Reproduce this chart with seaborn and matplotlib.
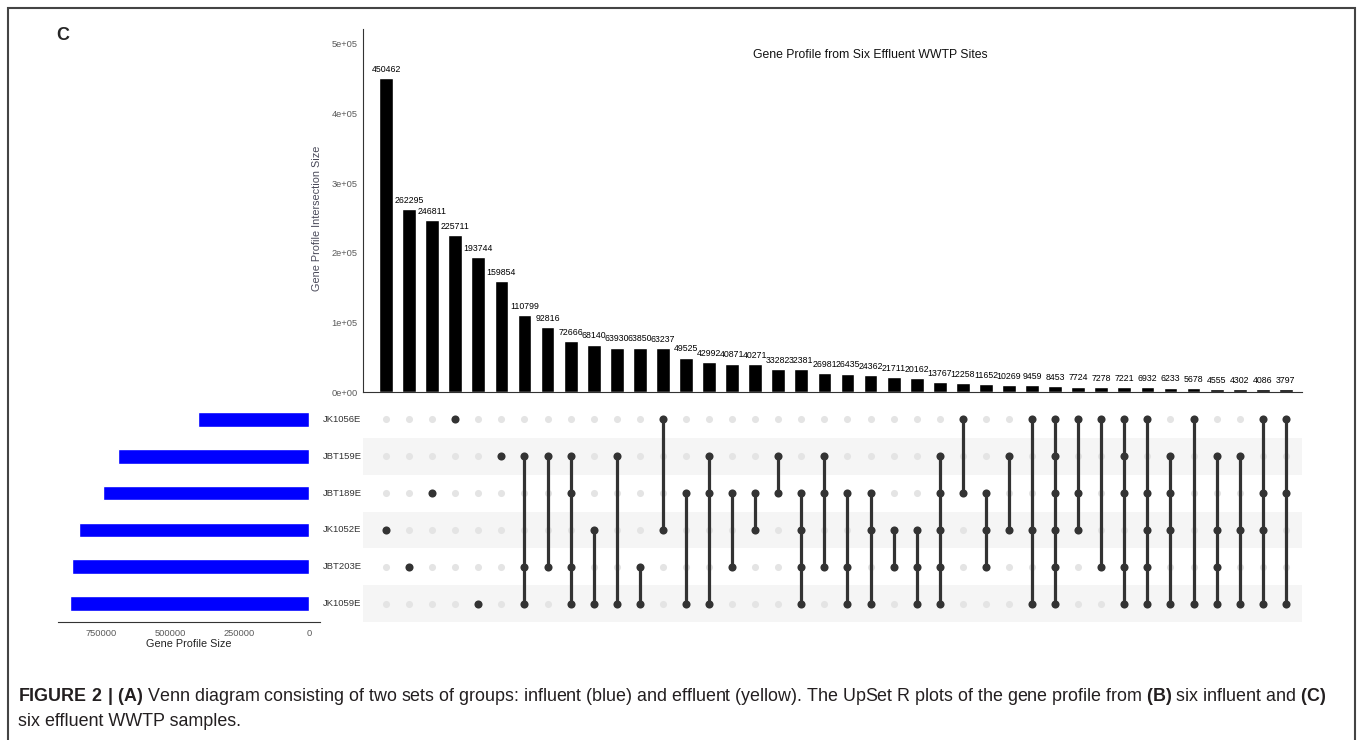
import numpy as np
import pandas as pd
import matplotlib
matplotlib.use('Agg')
import matplotlib.pyplot as plt
import matplotlib.transforms as mtransforms
import seaborn as sns

# intersection sizes, left to right
inter_sizes = [450462, 262295, 246811, 225711, 193744, 159854, 110799, 92816, 72666, 68140,
               63930, 63850, 63237, 49525, 42992, 40871, 40271, 33282, 32381, 26981,
               26435, 24362, 21711, 20162, 13767, 12258, 11652, 10269, 9459, 8453,
               7724, 7278, 7221, 6932, 6233, 5678, 4555, 4302, 4086, 3797]

# sets, top to bottom, and their sizes
set_names = ['JK1056E', 'JBT159E', 'JBT189E', 'JK1052E', 'JBT203E', 'JK1059E']
set_sizes = [402000, 688000, 742000, 830000, 856000, 863000]

# members of each intersection (row numbers of set_names)
members = [[3], [4], [2], [0], [5], [1], [1, 4, 5], [1, 4], [1, 2, 4, 5], [3, 5],
           [1, 5], [4, 5], [0, 3], [2, 5], [1, 2, 5], [2, 4], [2, 3], [1, 2], [2, 3, 4, 5], [1, 2, 4],
           [2, 4, 5], [2, 3, 5], [3, 4], [3, 4, 5], [1, 2, 3, 4, 5], [0, 2], [2, 3, 4], [1, 3], [0, 3, 5], [0, 1, 2, 3, 4, 5],
           [0, 2, 3], [0, 4], [0, 1, 2, 4, 5], [0, 2, 3, 4, 5], [1, 2, 3, 5], [0, 5], [1, 3, 4, 5], [1, 3, 5], [0, 2, 3, 5], [0, 2, 5]]

title = 'Gene Profile from Six Effluent WWTP Sites'

sns.set_style('white')
plt.rcParams['font.family'] = ['Liberation Sans', 'DejaVu Sans']
plt.rcParams['mathtext.fontset'] = 'custom'
plt.rcParams['mathtext.rm'] = 'Liberation Sans'
plt.rcParams['mathtext.bf'] = 'Liberation Sans:bold'

W, H = 1358, 740
fig = plt.figure(figsize=(W / 100, H / 100), dpi=100)


def px_axes(l, t, r, b):
    return fig.add_axes([l / W, 1 - b / H, (r - l) / W, (b - t) / H])


n = len(inter_sizes)
cols = np.arange(n)
dark = '#333333'
tick_gray = '#5a5a5a'

# ---- intersection bar chart ----
ax_bar = px_axes(363, 29, 1302, 392)
bars = pd.DataFrame({'col': cols, 'size': inter_sizes})
sns.barplot(data=bars, x='col', y='size', color='black', width=0.6,
            native_scale=True, saturation=1, ax=ax_bar)
ax_bar.bar_label(ax_bar.containers[0], labels=[str(v) for v in inter_sizes],
                 padding=3, fontsize=6.3, color='black')
ax_bar.set_xlim(-1.0, 39.7)
ax_bar.set_ylim(0, 521500)
ax_bar.set_yticks([0, 1e5, 2e5, 3e5, 4e5, 5e5])
ax_bar.set_yticklabels(['0e+00', '1e+05', '2e+05', '3e+05', '4e+05', '5e+05'])
ax_bar.set_xticks([])
ax_bar.set_xlabel('')
ax_bar.set_ylabel('Gene Profile Intersection Size', fontsize=7.8, color='#4a4a5a')
ax_bar.yaxis.set_label_coords(-0.044, 0.478)
ax_bar.tick_params(axis='y', labelsize=6.7, colors=tick_gray, length=3, width=0.6, pad=1)
for s in ['top', 'right']:
    ax_bar.spines[s].set_visible(False)
for s in ['left', 'bottom']:
    ax_bar.spines[s].set_color(dark)
    ax_bar.spines[s].set_linewidth(0.8)
ax_bar.text(0.54, 0.928, title, transform=ax_bar.transAxes, ha='center',
            va='center', fontsize=8.8, color='#111111')

# ---- matrix of dots ----
ax_m = px_axes(363, 401, 1302, 622)
for r in range(len(set_names)):
    if r % 2 == 1:
        ax_m.axhspan(r - 0.5, r + 0.5, color='#f5f5f5', lw=0, zorder=0)

rows = []
for c, mem in enumerate(members):
    for r in range(len(set_names)):
        rows.append({'col': c, 'row': r, 'on': r in mem})
dots = pd.DataFrame(rows)

sns.scatterplot(data=dots[~dots['on']], x='col', y='row', color='#e4e4e4',
                s=26, linewidth=0, ax=ax_m, zorder=2)
for c, mem in enumerate(members):
    if len(mem) > 1:
        ax_m.vlines(c, min(mem), max(mem), color=dark, lw=2.3, zorder=3)
sns.scatterplot(data=dots[dots['on']], x='col', y='row', color=dark,
                s=34, linewidth=0, ax=ax_m, zorder=4)
ax_m.set_xlim(-1.0, 39.7)
ax_m.set_ylim(5.5, -0.5)
ax_m.set_xticks([])
ax_m.set_yticks([])
ax_m.set_xlabel('')
ax_m.set_ylabel('')
for s in ax_m.spines.values():
    s.set_visible(False)

# set names between the two panels
name_tr = mtransforms.blended_transform_factory(fig.transFigure, ax_m.transData)
for r, name in enumerate(set_names):
    fig.text(323 / W, r, name, transform=name_tr, ha='left', va='center',
             fontsize=6.8, color=dark)

# ---- set size bars ----
ax_set = px_axes(58, 401, 320, 622)
sets = pd.DataFrame({'name': set_names, 'size': set_sizes})
sns.barplot(data=sets, x='size', y='name', orient='h', color='#0000ff',
            width=0.4, saturation=1, ax=ax_set)
ax_set.set_xlim(905000, -39700)
ax_set.set_ylim(5.5, -0.5)
ax_set.set_xticks([750000, 500000, 250000, 0])
ax_set.set_xticklabels(['750000', '500000', '250000', '0'])
ax_set.set_yticks([])
ax_set.set_ylabel('')
ax_set.set_xlabel('Gene Profile Size', fontsize=7.8, color='#222222', labelpad=1)
ax_set.tick_params(axis='x', labelsize=6.7, colors=tick_gray, length=3, width=0.6, pad=2)
for s in ['top', 'right', 'left']:
    ax_set.spines[s].set_visible(False)
ax_set.spines['bottom'].set_color(dark)
ax_set.spines['bottom'].set_linewidth(0.8)

# panel letter
fig.text(56 / W, 1 - 36 / H, 'C', fontsize=13, fontweight='bold', va='center')

# figure frame
frame = plt.Rectangle((8 / W, -0.05), (1355 - 8) / W, 1 - 8 / H + 0.05,
                      transform=fig.transFigure, fill=False, edgecolor='#444444', lw=1.5)
fig.add_artist(frame)

# caption
line1 = (r'$\mathbf{FIGURE\ 2\ |\ (A)}$ Venn diagram consisting of two sets of groups: '
         r'influent (blue) and effluent (yellow). The UpSet R plots of the gene profile from '
         r'$\mathbf{(B)}$ six influent and $\mathbf{(C)}$')
fig.text(18 / W, 1 - 701 / H, line1, fontsize=12.9, color='#231f20', va='baseline')
fig.text(18 / W, 1 - 726 / H, 'six effluent WWTP samples.', fontsize=12.9,
         color='#231f20', va='baseline')

fig.savefig('out.png', dpi=100)
